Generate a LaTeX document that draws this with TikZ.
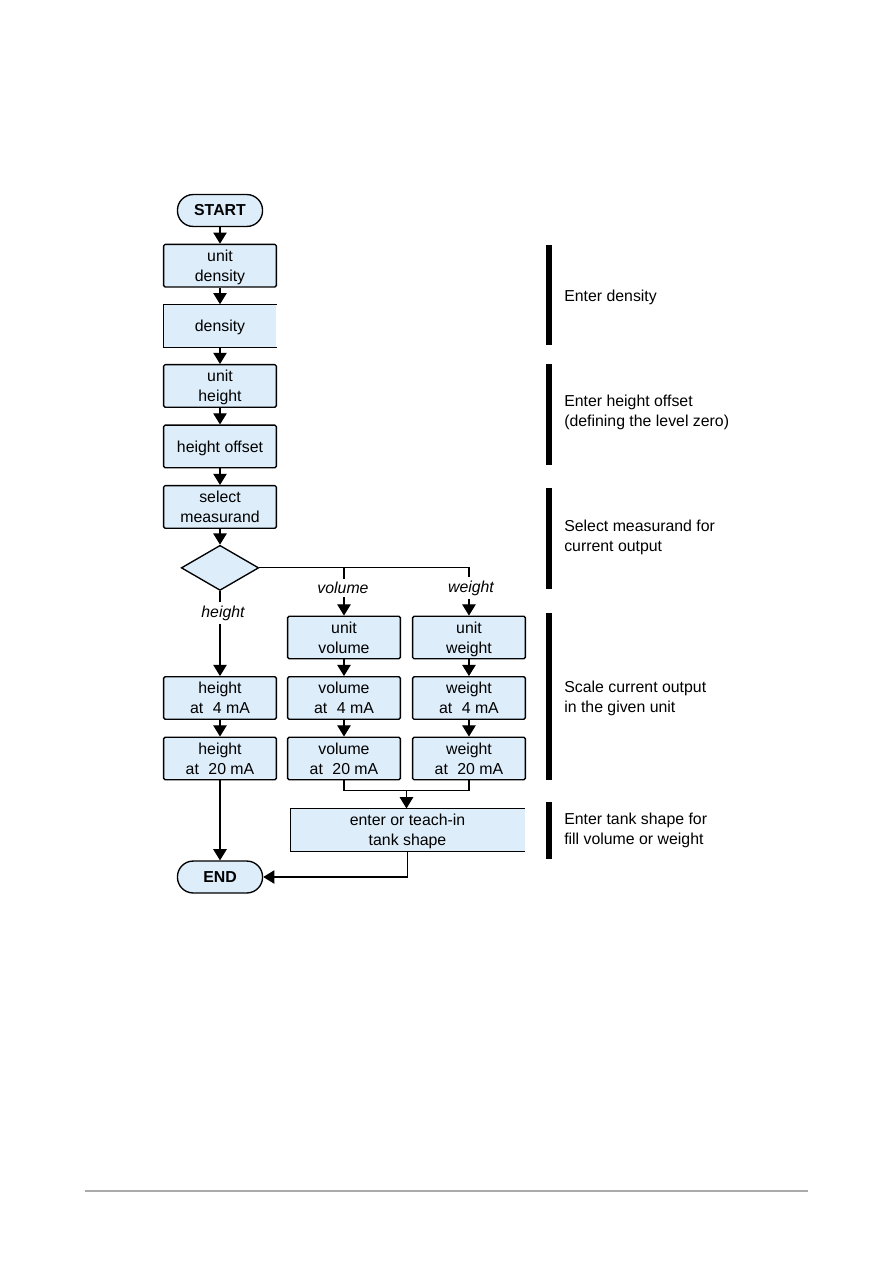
\documentclass[tikz,border=0pt]{standalone}
\usepackage{fontspec}
\setmainfont{Liberation Sans}
\usetikzlibrary{arrows.meta,calc,positioning,shapes.geometric}
\definecolor{boxblue}{RGB}{221,237,250}
\definecolor{rulegray}{RGB}{170,170,170}

\begin{document}
\begin{tikzpicture}[
    x=0.0235cm, y=-0.0235cm,
    node distance=0.39cm,
    every node/.style={
        font=\fontsize{10.6}{13.4}\selectfont,
        align=center,
        inner sep=0pt
    },
    stepbox/.style={
        draw,
        line width=0.9pt,
        fill=boxblue,
        rounded corners=1pt,
        minimum width=2.65cm,
        minimum height=1.0cm,
        text depth=0pt
    },
    openbox/.style={
        fill=boxblue,
        minimum width=2.65cm,
        minimum height=1.0cm,
        text depth=0pt
    },
    terminal/.style={
        draw,
        line width=0.9pt,
        fill=boxblue,
        rounded corners=0.37cm,
        minimum width=2.0cm,
        minimum height=0.75cm,
        font=\fontsize{10.6}{13.4}\selectfont\bfseries
    },
    decision/.style={
        draw,
        diamond,
        line width=0.9pt,
        fill=boxblue,
        minimum width=1.82cm,
        minimum height=1.06cm
    },
    branch/.style={font=\fontsize{10.6}{13.4}\selectfont\itshape, inner sep=2pt},
    flow/.style={draw, line width=0.8pt},
    arr/.style={flow, -{Triangle[length=7.5pt, width=9pt]}},
    bar/.style={line width=4pt},
    note/.style={anchor=west, align=left}
]
\useasboundingbox (0,0) rectangle (893,1264);

% main column
\node[terminal] (start) at (220,210.5) {START};
\node[stepbox, below=of start] (udens) {unit\\density};
\node[openbox, below=of udens] (dens) {density};
\node[stepbox, below=of dens] (uheight) {unit\\height};
\node[stepbox, below=of uheight] (hoffset) {height offset};
\node[stepbox, below=of hoffset] (select) {select\\measurand};
\node[decision, below=0.37cm of select] (measurand) {};

% scaling columns
\node[stepbox] (h4) at (220,698) {height\\at\hspace{0.6em}4 mA};
\node[stepbox, below=of h4] (h20) {height\\at\hspace{0.6em}20 mA};
\node[stepbox, right=0.232cm of h4] (v4) {volume\\at\hspace{0.6em}4 mA};
\node[stepbox, below=of v4] (v20) {volume\\at\hspace{0.6em}20 mA};
\node[stepbox, above=of v4] (uvol) {unit\\volume};
\node[stepbox, right=0.255cm of v4] (w4) {weight\\at\hspace{0.6em}4 mA};
\node[stepbox, below=of w4] (w20) {weight\\at\hspace{0.6em}20 mA};
\node[stepbox, above=of w4] (uwt) {unit\\weight};

\node[openbox, minimum width=5.5cm] (tank) at (407.5,830) {enter or teach-in\\tank shape};
\node[terminal] (end) at (220,877) {END};

% boxes drawn open on the right
\foreach \n in {dens,tank}
    \draw[line width=0.9pt] (\n.north east) -- (\n.north west) -- (\n.south west) -- (\n.south east);

% branch labels
\node[branch] (hlab) at (223,613) {height};
\node[branch] (vlab) at (343,588) {volume};
\node[branch] (wlab) at (471,588) {weight};

% connectors
\draw[arr] (start) -- (udens);
\draw[arr] (udens) -- (dens);
\draw[arr] (dens) -- (uheight);
\draw[arr] (uheight) -- (hoffset);
\draw[arr] (hoffset) -- (select);
\draw[arr] (select) -- (measurand);

\draw[flow] (measurand.south) -- (measurand.south |- hlab.north);
\draw[arr] (measurand.south |- hlab.south) -- (h4.north);
\draw[flow] (measurand.east) -- (measurand.east -| uwt.north) -- (uwt.north |- wlab.north);
\draw[flow] (measurand.east -| uvol.north) -- (uvol.north |- vlab.north);
\draw[arr] (uvol.north |- vlab.south) -- (uvol.north);
\draw[arr] (uwt.north |- wlab.south) -- (uwt.north);

\draw[arr] (h4) -- (h20);
\draw[arr] (uvol) -- (v4);
\draw[arr] (v4) -- (v20);
\draw[arr] (uwt) -- (w4);
\draw[arr] (w4) -- (w20);

\coordinate (merge) at ($(v20.south)!0.5!(w20.south) + (0,10)$);
\draw[flow] (v20.south) |- (merge) -| (w20.south);
\draw[arr] (merge) -- (merge |- tank.north);
\draw[arr] (h20.south) -- (end.north);
\draw[arr] (tank.south) |- (end.east);

% notes on the right
\draw[bar] (549,245) -- (549,345);
\node[note] (nDensity) at (564,297) {Enter density};
\draw[bar] (549,364) -- (549,465);
\node[note] (nOffset) at (564,412) {Enter height offset\\(defining the level zero)};
\draw[bar] (549,488) -- (549,589);
\node[note] (nSelect) at (564,537) {Select measurand for\\current output};
\draw[bar] (549,613) -- (549,780);
\node[note] (nScale) at (564,698) {Scale current output\\in the given unit};
\draw[bar] (549,802) -- (549,859);
\node[note] (nTank) at (564,830.5) {Enter tank shape for\\fill volume or weight};

% footer rule
\draw[rulegray, line width=1.5pt] (85,1191) -- (808,1191);

\end{tikzpicture}
\end{document}
